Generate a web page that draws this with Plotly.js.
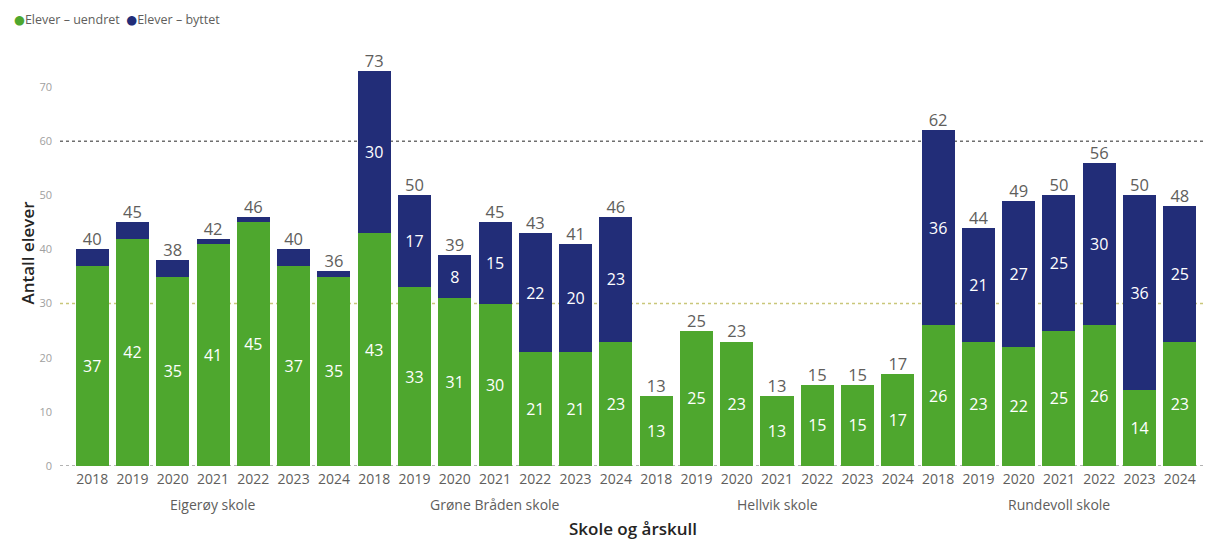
<!DOCTYPE html>
<html>
<head>
<meta charset="utf-8">
<script src="https://cdn.plot.ly/plotly-3.0.1.min.js"></script>
<style>html,body{margin:0;padding:0;background:#fff;}#chart{width:1206px;height:540px;}</style>
</head>
<body>
<div id="chart"></div>
<script>
const schools = ["Eigerøy skole", "Grøne Bråden skole", "Hellvik skole", "Rundevoll skole"];
const years = ["2018", "2019", "2020", "2021", "2022", "2023", "2024"];
const seriesNames = ["Elever – uendret", "Elever – byttet"];
const uendret = [
  37, 42, 35, 41, 45, 37, 35,
  43, 33, 31, 30, 21, 21, 23,
  13, 25, 23, 13, 15, 15, 17,
  26, 23, 22, 25, 26, 14, 23
];
const byttet = [
  3, 3, 3, 1, 1, 3, 1,
  30, 17, 8, 15, 22, 20, 23,
  0, 0, 0, 0, 0, 0, 0,
  36, 21, 27, 25, 30, 36, 25
];
const refLines = [
  {value: 60, color: "#6f6f6f"},
  {value: 30, color: "#c9c77a"},
  {value: 0, color: "#9a9a9a"}
];

const n = uendret.length;
const xs = [];
const ticktext = [];
for (let i = 0; i < n; i++) { xs.push(i); ticktext.push(years[i % years.length]); }
const totals = uendret.map((v, i) => v + byttet[i]);

const FONT = "Open Sans, DejaVu Sans, sans-serif";
const GREEN = "#4ea72e";
const BLUE = "#222d78";
const colors = [GREEN, BLUE];

const traces = [
  {
    type: "bar", x: xs, y: uendret, name: seriesNames[0],
    marker: {color: GREEN}, text: uendret.map(String), textposition: "inside",
    insidetextanchor: "middle", textangle: 0,
    textfont: {color: "#ffffff", size: 16, family: FONT},
    showlegend: false, hoverinfo: "skip", width: 0.82
  },
  {
    type: "bar", x: xs, y: byttet, name: seriesNames[1],
    marker: {color: BLUE}, text: byttet.map(String), textposition: "inside",
    insidetextanchor: "middle", textangle: 0,
    textfont: {color: "#ffffff", size: 16, family: FONT},
    showlegend: false, hoverinfo: "skip", width: 0.82
  },
  {
    type: "scatter", mode: "text", x: xs, y: totals, text: totals.map(String),
    textposition: "top center", textfont: {color: "#605e5c", size: 16.5, family: FONT},
    showlegend: false, hoverinfo: "skip", cliponaxis: false
  }
];

const shapes = refLines.map(r => ({
  type: "line", xref: "paper", x0: 0, x1: 1, yref: "y", y0: r.value, y1: r.value,
  line: {color: r.color, width: 1.5, dash: "dot"}, layer: "below"
}));

const annotations = schools.map((s, k) => ({
  text: s, xref: "x", yref: "paper", x: k * years.length + (years.length - 1) / 2, y: 0,
  yshift: -27, yanchor: "top", showarrow: false,
  font: {size: 14, color: "#605e5c", family: FONT}
}));

// legend-style labels (round markers tight to text, as in the reference)
const legendText = seriesNames.map((s, i) =>
  '<span style="color:' + colors[i] + '">' + (i > 0 ? '\u00a0\u00a0' : '') + '●</span>' + s).join('');
annotations.push({
  text: legendText, xref: "paper", yref: "paper", x: -0.042, y: 1.047,
  xanchor: "left", yanchor: "middle", showarrow: false,
  font: {size: 12.5, color: "#605e5c", family: FONT}
});

const layout = {
  width: 1206, height: 540,
  margin: {l: 60, r: 0, t: 40, b: 74},
  barmode: "stack",
  paper_bgcolor: "#ffffff", plot_bgcolor: "#ffffff",
  font: {family: FONT},
  uniformtext: {mode: "hide", minsize: 16},
  showlegend: false,
  xaxis: {
    range: [-0.8, 27.65], tickmode: "array", tickvals: xs, ticktext: ticktext,
    showgrid: false, zeroline: false, showline: false, ticks: "",
    ticklabelstandoff: 3,
    tickfont: {size: 14, color: "#605e5c", family: FONT},
    title: {text: "Skole og årskull", font: {size: 17, color: "#252423", family: FONT, weight: 600}, standoff: 36},
    automargin: false
  },
  yaxis: {
    range: [0, 78.7], tickmode: "array", tickvals: [0, 10, 20, 30, 40, 50, 60, 70],
    showgrid: false, zeroline: false, showline: false, ticks: "",
    ticklabelstandoff: 7,
    tickfont: {size: 11, color: "#a0a0a0", family: FONT},
    title: {text: "Antall elever", font: {size: 17, color: "#252423", family: FONT, weight: 600}, standoff: 0},
    automargin: false
  },
  shapes: shapes,
  annotations: annotations
};

Plotly.newPlot("chart", traces, layout, {displayModeBar: false, staticPlot: true});
</script>
</body>
</html>
